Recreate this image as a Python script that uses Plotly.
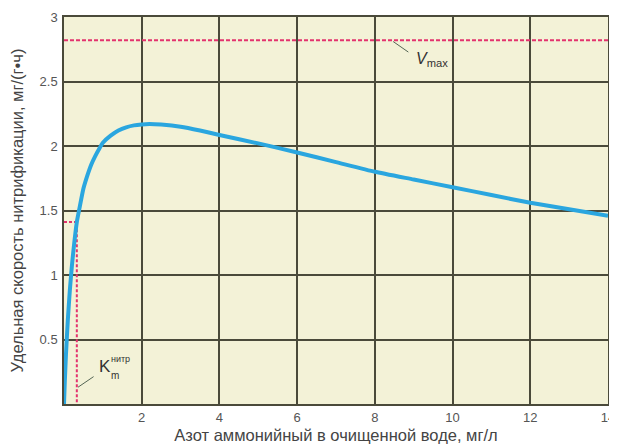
import plotly.graph_objects as go

# Data
nitrogen = [0, 0.02, 0.05, 0.1, 0.15, 0.2, 0.25, 0.33, 0.4, 0.5, 0.6, 0.7, 0.8, 0.9, 1.0,
            1.2, 1.4, 1.6, 1.8, 2.0, 2.2, 2.5, 3, 3.5, 4, 5, 6, 7, 8, 9, 10, 11, 12, 13, 14]
rate = [0, 0.17, 0.38, 0.66, 0.88, 1.06, 1.21, 1.41, 1.52, 1.67, 1.77, 1.855, 1.92, 1.975, 2.025,
        2.08, 2.12, 2.145, 2.16, 2.167, 2.17, 2.166, 2.15, 2.12, 2.085, 2.02, 1.95, 1.875, 1.80,
        1.74, 1.68, 1.62, 1.56, 1.51, 1.46]
v_max = 2.82
k_m = 0.33
k_m_rate = 1.41
x_ticks = [2, 4, 6, 8, 10, 12, 14]
y_ticks = [0.5, 1, 1.5, 2, 2.5, 3]

grid_col = "#4a4a3a"
pink = "#e3336e"
font_fam = "Liberation Sans, Arial, sans-serif"

fig = go.Figure()

# Vmax line
fig.add_trace(go.Scatter(x=[0, 14], y=[v_max, v_max], mode="lines",
                         line=dict(color=pink, width=2, dash="4px,2px"),
                         hoverinfo="skip", showlegend=False))
# Km lines
fig.add_trace(go.Scatter(x=[0, k_m, k_m], y=[k_m_rate, k_m_rate, 0], mode="lines",
                         line=dict(color=pink, width=2, dash="3px,2px"),
                         hoverinfo="skip", showlegend=False))
# Curve
fig.add_trace(go.Scatter(x=nitrogen, y=rate, mode="lines",
                         line=dict(color="#2aa6df", width=4, shape="spline", smoothing=0.5),
                         showlegend=False))

# the page body has an 8px margin, so the figure is sized to fit the window
fig.update_layout(
    width=609, height=436,
    margin=dict(l=56, r=9, t=9, b=40),
    paper_bgcolor="white",
    plot_bgcolor="#f3f2d7",
    font=dict(family=font_fam, size=13, color="#555555"),
    xaxis=dict(range=[0, 14], tickvals=x_ticks, ticktext=[str(v) for v in x_ticks],
               showgrid=True, gridcolor=grid_col, gridwidth=1.5, automargin=False,
               zeroline=False, showline=True, linecolor=grid_col, linewidth=1.5, mirror=True,
               ticks="", ticklabelstandoff=1, ticklabeloverflow="allow",
               tickfont=dict(size=13, color="#555555"),
               title=dict(text="Азот аммонийный в очищенной воде, мг/л", standoff=7,
                          font=dict(size=16.5, color="#444444"))),
    yaxis=dict(range=[0, 3], tickvals=y_ticks, ticktext=["0.5", "1", "1.5", "2", "2.5", "3"],
               showgrid=True, gridcolor=grid_col, gridwidth=1.5, automargin=False,
               zeroline=False, showline=True, linecolor=grid_col, linewidth=1.5, mirror=True,
               ticks="", ticklabelstandoff=2, tickfont=dict(size=13, color="#555555"),
               title=dict(text="Удельная скорость нитрификации, мг/(г•ч)", standoff=15,
                          font=dict(size=16.5, color="#444444"))),
)

# Vmax label with leader line
fig.add_annotation(x=8.47, y=2.81, ax=8.9, ay=2.72, xref="x", yref="y", axref="x", ayref="y",
                   text="", showarrow=True, arrowhead=0, arrowwidth=1, arrowcolor="#556655")
fig.add_annotation(x=9.0, y=2.67, xref="x", yref="y", xanchor="left", yanchor="middle",
                   text="<i>V</i><sub>max</sub>", showarrow=False,
                   font=dict(size=16, color="#333333", family=font_fam))
# Km label with leader line
fig.add_annotation(x=0.36, y=0.13, ax=0.8, ay=0.22, xref="x", yref="y", axref="x", ayref="y",
                   text="", showarrow=True, arrowhead=0, arrowwidth=1, arrowcolor="#556655")
fig.add_annotation(x=0.86, y=0.29, xref="x", yref="y", xanchor="left", yanchor="middle",
                   text="K", showarrow=False,
                   font=dict(size=17, color="#333333", family=font_fam))
fig.add_annotation(x=1.16, y=0.35, xref="x", yref="y", xanchor="left", yanchor="middle",
                   text="нитр", showarrow=False,
                   font=dict(size=9, color="#333333", family=font_fam))
fig.add_annotation(x=1.16, y=0.22, xref="x", yref="y", xanchor="left", yanchor="middle",
                   text="m", showarrow=False,
                   font=dict(size=10, color="#333333", family=font_fam))

fig.write_html("out.html")
